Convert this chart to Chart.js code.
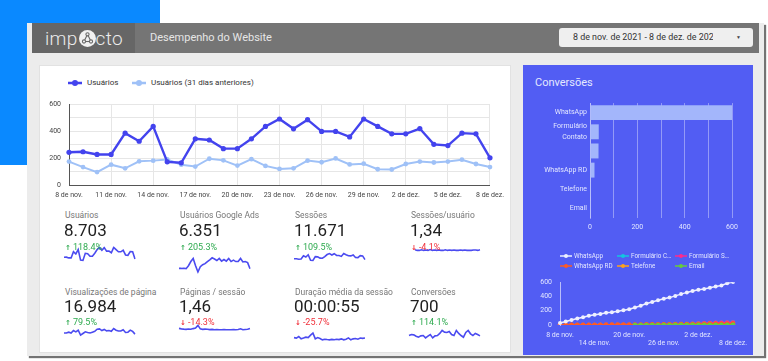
<!DOCTYPE html>
<html lang="pt-BR">
<head>
<meta charset="utf-8">
<title>Desempenho do Website</title>
<script src="https://cdn.jsdelivr.net/npm/chart.js@4.4.1/dist/chart.umd.min.js"></script>
<style>
*{box-sizing:border-box}
html,body{margin:0;padding:0;width:768px;height:361px;overflow:hidden;background:#fff;font-family:Roboto,'Noto Sans',Arial,sans-serif;}
.a{position:absolute}
#bluesq{left:0;top:0;width:160px;height:165px;background:#0a89ff}
#frame{left:27px;top:23px;width:737px;height:333px;background:#ececec;box-shadow:2px 2px 1px rgba(0,0,0,.55)}
#header{left:32px;top:23px;width:727px;height:30px;background:#757575}
#logo{left:32px;top:23px;width:103px;height:30px;background:#666;}
#logotext{left:45px;top:23px;height:30px;display:flex;align-items:center;color:#ececec;font-size:19px;font-weight:300;letter-spacing:0.3px}
#logotext svg{margin:0 0 0 1px}
#title{left:150px;top:23px;line-height:30px;font-size:11px;color:#e6e6e6}
#date{left:559px;top:28px;width:194px;height:19px;background:#efefef;border-radius:3px}
#datetxt{left:14px;top:0;width:140px;overflow:hidden;white-space:nowrap;font-size:8.9px;line-height:19px;color:#333}
#datearr{left:177px;top:0;font-size:5px;line-height:19px;color:#444}
#lcard{left:39px;top:65px;width:472px;height:288px;background:#fff;border:1px solid #e2e2e2}
#rcard{left:523px;top:65px;width:230px;height:290px;background:#525df3}
#rtitle{left:535px;top:76px;font-size:11px;line-height:14px;color:#e4e8ff}
.leg{display:flex;align-items:center;white-space:nowrap}
.lbl{font-size:8.5px;line-height:10px;color:#777;white-space:nowrap}
.val{font-size:17px;line-height:17px;color:#222;white-space:nowrap}
.chg{font-size:9px;line-height:10px;white-space:nowrap}
.up{color:#2eaa4f}
.dn{color:#f0303a}
.arr{font-family:'DejaVu Sans',sans-serif;font-weight:bold;font-size:7px;margin-right:2px}
canvas{position:absolute}
</style>
</head>
<body>
<div id="bluesq" class="a"></div>
<div id="frame" class="a"></div>
<div id="header" class="a"></div>
<div id="logo" class="a"></div>
<div id="logotext" class="a"><span>imp</span><svg width="17" height="17" viewBox="0 0 17 17"><circle cx="8.5" cy="8.5" r="8.5" fill="#f2f2f2"/><g stroke="#6a6a6a" stroke-width="1.1" fill="none"><circle cx="8.5" cy="4.3" r="1.6"/><circle cx="5" cy="11.5" r="1.6"/><circle cx="12" cy="11.5" r="1.6"/><line x1="7.8" y1="5.8" x2="5.7" y2="10"/><line x1="9.2" y1="5.8" x2="11.3" y2="10"/><line x1="6.6" y1="11.5" x2="10.4" y2="11.5"/></g></svg><span>cto</span></div>
<div id="title" class="a">Desempenho do Website</div>
<div id="date" class="a"><div id="datetxt" class="a"></div><div id="datearr" class="a">▼</div></div>
<div id="lcard" class="a"></div>
<div id="rcard" class="a"></div>
<div id="rtitle" class="a">Conversões</div>

<canvas id="main" width="470" height="112" style="left:40px;top:92px"></canvas>
<canvas id="bar" width="230" height="140" style="left:523px;top:95px"></canvas>
<canvas id="cum" width="230" height="86" style="left:523px;top:270px"></canvas>

<canvas id="sp0" width="73" height="22" style="left:63px;top:246px"></canvas>
<canvas id="sp1" width="73" height="28" style="left:178px;top:246px"></canvas>
<canvas id="sp2" width="73" height="18" style="left:293px;top:247px"></canvas>
<canvas id="sp3" width="67" height="8" style="left:414px;top:246px"></canvas>
<canvas id="sp4" width="73" height="15" style="left:63px;top:325px"></canvas>
<canvas id="sp5" width="73" height="10" style="left:178px;top:324px"></canvas>
<canvas id="sp6" width="73" height="20" style="left:293px;top:324px"></canvas>
<canvas id="sp7" width="73" height="19" style="left:408px;top:325px"></canvas>

<script>
// ---------- DATA ----------
const dateRange = '8 de nov. de 2021 - 8 de dez. de 2021';
const days = ['8 de nov.','9 de nov.','10 de nov.','11 de nov.','12 de nov.','13 de nov.','14 de nov.','15 de nov.','16 de nov.','17 de nov.','18 de nov.','19 de nov.','20 de nov.','21 de nov.','22 de nov.','23 de nov.','24 de nov.','25 de nov.','26 de nov.','27 de nov.','28 de nov.','29 de nov.','30 de nov.','1 de dez.','2 de dez.','3 de dez.','4 de dez.','5 de dez.','6 de dez.','7 de dez.','8 de dez.'];
const usuarios = [243,247,227,227,385,325,435,172,165,343,334,270,270,343,435,490,417,485,398,398,357,490,435,380,380,419,302,293,385,380,202];
const usuariosAnteriores = [174,133,96,151,124,176,181,190,151,137,195,183,144,192,142,119,124,181,169,197,153,158,117,115,156,174,167,174,188,156,133];
const mainSeries = ['Usuários','Usuários (31 dias anteriores)'];
const mainYTicks = [0,200,400,600];

const cardTitles = ['Usuários','Usuários Google Ads','Sessões','Sessões/usuário','Visualizações de página','Páginas / sessão','Duração média da sessão','Conversões'];
const cardValues = ['8.703','6.351','11.671','1,34','16.984','1,46','00:00:55','700'];
const cardChanges = [118.4,205.3,109.5,-4.1,79.5,-14.3,-25.7,114.1];

const sparkUsuarios = usuarios;
const sparkGoogleAds = [88,88,92,84,140,220,280,140,20,120,160,180,220,252,292,268,240,280,228,260,228,280,220,248,220,220,280,212,220,200,80];
const sparkSessoes = [330,328,301,308,512,440,578,236,219,463,445,365,358,456,590,651,562,644,536,528,474,660,580,512,505,560,402,396,520,505,275];
const sparkSessoesUsuario = [1.36,1.33,1.33,1.36,1.33,1.35,1.33,1.37,1.33,1.35,1.33,1.35,1.33,1.33,1.36,1.33,1.35,1.33,1.35,1.33,1.33,1.35,1.33,1.35,1.33,1.33,1.33,1.35,1.35,1.33,1.36];
const sparkVisualizacoes = [462,462,525,462,650,550,675,300,425,550,500,462,525,587,750,775,650,737,625,650,587,800,675,612,612,712,500,525,675,587,375];
const sparkPaginasSessao = [1.58,1.52,1.48,1.45,1.50,1.47,1.55,1.62,1.95,1.52,1.45,1.48,1.46,1.42,1.45,1.40,1.42,1.41,1.40,1.42,1.40,1.41,1.40,1.43,1.41,1.44,1.52,1.40,1.44,1.47,1.56];
const sparkDuracao = [60,55,72,46,55,65,60,88,110,46,60,50,35,42,38,35,40,36,42,38,46,35,42,57,35,46,50,42,55,52,55];
const sparkConversoes = [22,25,24,20,17,21,22,15,20,25,15,21,22,28,37,32,31,34,25,22,37,28,22,17,31,37,27,22,28,25,21];

const convBarLabels = ['WhatsApp',['Formulário','Contato'],'','WhatsApp RD','Telefone','Email'];
const convTotals = [602,37,36,19,3,3];
const convXTicks = [0,200,400,600];

const cumSeries = ['WhatsApp','Formulário Contato','Formulário Site','WhatsApp RD','Telefone','Email'];
const cumWhatsApp = [29,49,69,90,110,131,143,155,171,180,192,208,220,245,269,302,322,347,367,384,408,433,457,478,494,506,522,539,555,584,602];
const cumFormContato = [0,0,0,0,0,0,0,0,0,0,0,0,0,0,0,0,0,0,3,6,9,12,15,18,21,24,27,30,32,35,37];
const cumFormSite = [0,0,0,0,0,0,0,0,0,0,0,0,0,0,0,0,0,0,3,6,9,12,15,18,21,24,27,30,32,34,36];
const cumWhatsAppRD = [1,1,2,2,3,3,4,4,5,5,6,6,7,7,8,9,9,10,10,11,12,12,13,14,14,15,16,17,17,18,19];
const cumTelefone = [0,0,0,0,0,0,0,0,0,0,0,0,0,1,1,1,1,1,1,1,2,2,2,2,2,2,2,3,3,3,3];
const cumEmail = [null,null,null,null,null,null,null,null,null,null,null,null,null,1,1,1,1,1,1,1,2,2,2,2,2,2,2,3,3,3,3];

// ---------- STYLE ----------
const C_USR = '#4343ee', C_ANT = '#9fc1f7', C_SPARK = '#4b4bf0';
const cumColors = ['#eef0ff','#12c6e0','#ff2a8c','#ff5b22','#ffa21a','#66cc3d'];
const cumOrder = [0,4,3,2,5,1];
Chart.defaults.font.family = 'Roboto, "Noto Sans", sans-serif';
Chart.defaults.animation = false;
Chart.defaults.responsive = false;
Chart.defaults.events = [];
Chart.defaults.plugins.legend.display = false;
Chart.defaults.plugins.tooltip.enabled = false;

document.getElementById('datetxt').textContent = dateRange;

function marker(color, w, h, lw, r){
  return `<svg width="${w}" height="${h}" style="flex:none"><line x1="0" y1="${h/2}" x2="${w}" y2="${h/2}" stroke="${color}" stroke-width="${lw}"/><circle cx="${w/2}" cy="${h/2}" r="${r}" fill="${color}"/></svg>`;
}
function addDiv(html, cls, left, top, extra){
  const d = document.createElement('div');
  d.className = 'a ' + (cls||'');
  d.style.left = left + 'px'; d.style.top = top + 'px';
  if (extra) Object.assign(d.style, extra);
  d.innerHTML = html;
  document.body.appendChild(d);
  return d;
}

// main legend
[[68, C_USR],[132, C_ANT]].forEach((p,i)=>{
  addDiv(marker(p[1],14,8,2.5,3) + `<span style="margin-left:5px;font-size:8px;color:#333">${mainSeries[i]}</span>`, 'leg', p[0], 78, {height:10});
});

// main chart
new Chart(document.getElementById('main'), {
  type:'line',
  data:{labels:days, datasets:[
    {label:mainSeries[0], data:usuarios, borderColor:C_USR, backgroundColor:C_USR, borderWidth:2.4, pointRadius:2.6, pointBorderWidth:0, tension:0},
    {label:mainSeries[1], data:usuariosAnteriores, borderColor:C_ANT, backgroundColor:C_ANT, borderWidth:2, pointRadius:2.4, pointBorderWidth:0, tension:0}
  ]},
  options:{
    layout:{padding:{left:0,right:15,top:6,bottom:0}},
    scales:{
      x:{grid:{color:'#e6e6e6', drawTicks:false}, border:{color:'#555'},
         ticks:{autoSkip:false, maxRotation:0, padding:6, color:'#444', font:{size:7}, callback:(v,i)=> i%3===0 ? days[i] : null},
         afterFit:s=>{s.height=19;}},
      y:{min:0, max:600, grid:{color:'#e6e6e6', drawTicks:false}, border:{color:'#555'},
         ticks:{stepSize:100, padding:8, color:'#444', font:{size:7}, callback:v=> mainYTicks.includes(v) ? String(v) : ''},
         afterFit:s=>{s.width=29;}}
    }
  }
});

// scorecards
const colX = [65,180,295,411];
const rowY = [{lbl:210,val:222,chg:242},{lbl:287,val:298,chg:317}];
cardTitles.forEach((t,i)=>{
  const x = colX[i%4], r = rowY[Math.floor(i/4)];
  addDiv(t,'lbl',x,r.lbl);
  addDiv(cardValues[i],'val',x-1,r.val);
  const c = cardChanges[i];
  const up = c >= 0;
  addDiv(`<span class="arr">${up?'↑':'↓'}</span>${c.toFixed(1)}%`, 'chg ' + (up?'up':'dn'), x, r.chg);
});

function spark(id, data, ymin, ymax){
  new Chart(document.getElementById(id), {
    type:'line',
    data:{labels:days, datasets:[{data, borderColor:C_SPARK, borderWidth:1.6, pointRadius:0, tension:0, fill:false}]},
    options:{layout:{padding:1}, scales:{x:{display:false}, y:{display:false, min:ymin, max:ymax}}}
  });
}
spark('sp0', sparkUsuarios);
spark('sp1', sparkGoogleAds);
spark('sp2', sparkSessoes);
spark('sp3', sparkSessoesUsuario, 1.2, 1.5);
spark('sp4', sparkVisualizacoes);
spark('sp5', sparkPaginasSessao);
spark('sp6', sparkDuracao);
spark('sp7', sparkConversoes);

// bar chart
new Chart(document.getElementById('bar'), {
  type:'bar',
  data:{labels:convBarLabels, datasets:[{data:convTotals, backgroundColor:'#a3b6fb', barPercentage:0.78, categoryPercentage:1}]},
  options:{
    indexAxis:'y',
    layout:{padding:{left:0,right:21,top:6,bottom:0}},
    scales:{
      x:{min:0, max:600, grid:{color:'rgba(255,255,255,0.38)', drawTicks:false}, border:{display:false},
         ticks:{stepSize:100, autoSkip:false, padding:5, color:'#e2e6ff', font:{size:7}, callback:v=> convXTicks.includes(v) ? String(v) : ''},
         afterFit:s=>{s.height=17;}},
      y:{grid:{display:false, drawTicks:false}, border:{color:'rgba(255,255,255,0.38)'},
         ticks:{autoSkip:false, padding:3, color:'#e2e6ff', font:{size:7, lineHeight:1.45}},
         afterFit:s=>{s.width=67;}}
    }
  }
});

// cumulative legend
const legCols = [560,617,675];
cumSeries.forEach((n,i)=>{
  addDiv(marker(cumColors[i],12,6,1.5,2) + `<span style="margin-left:2px;font-size:6.3px;color:#e3e6ff;max-width:41px;overflow:hidden;text-overflow:ellipsis">${n}</span>`, 'leg', legCols[i%3], 252 + Math.floor(i/3)*10, {height:8});
});

// cumulative chart
const cumData = [cumWhatsApp,cumFormContato,cumFormSite,cumWhatsAppRD,cumTelefone,cumEmail];
new Chart(document.getElementById('cum'), {
  type:'line',
  data:{labels:days, datasets:cumData.map((d,i)=>({label:cumSeries[i], data:d, borderColor:cumColors[i], backgroundColor:cumColors[i], borderWidth:1.5, pointRadius:i===0?2:2.3, pointBorderWidth:0, tension:0, order:cumOrder[i]}))},
  options:{
    layout:{padding:{left:0,right:20,top:6,bottom:0}},
    scales:{
      x:{grid:{display:false, drawTicks:false}, border:{display:false},
         ticks:{autoSkip:false, maxRotation:0, padding:6, color:'#e2e6ff', font:{size:7}, callback:(v,i)=> i%6===0 ? ((i/6)%2===1 ? ['', days[i]] : days[i]) : null},
         afterFit:s=>{s.height=31;}},
      y:{min:0, max:600, grid:{display:false, drawTicks:false}, border:{color:'rgba(255,255,255,0.6)'},
         ticks:{stepSize:200, padding:8, color:'#e2e6ff', font:{size:7}},
         afterFit:s=>{s.width=37;}}
    }
  }
});
</script>
</body>
</html>
